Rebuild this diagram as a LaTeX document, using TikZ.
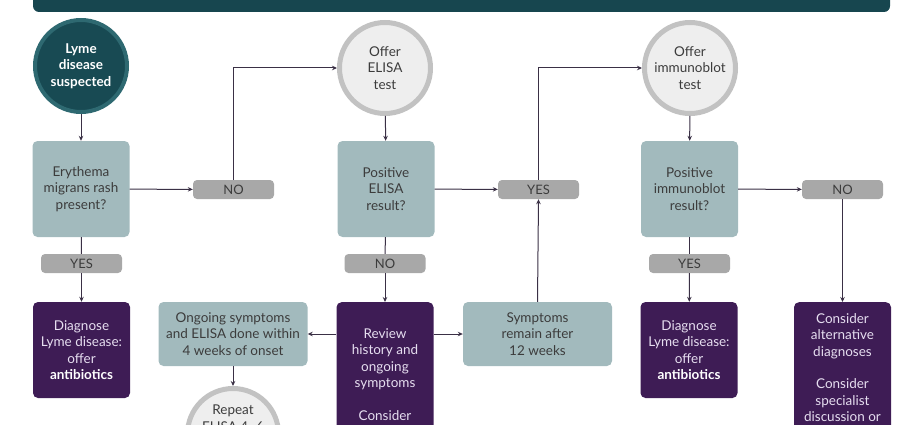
\documentclass[tikz,border=0pt]{standalone}
\usepackage{fontspec}
\setmainfont{Lato}
\usetikzlibrary{arrows.meta}
\definecolor{bannerteal}{HTML}{17464F}
\definecolor{ringteal}{HTML}{2E6971}
\definecolor{coreteal}{HTML}{184A53}
\definecolor{ringgray}{HTML}{C2C2C2}
\definecolor{coregray}{HTML}{EEEEEE}
\definecolor{boxteal}{HTML}{A2BABD}
\definecolor{boxpurple}{HTML}{3E1C55}
\definecolor{pillgray}{HTML}{A8A8A8}
\definecolor{linkdark}{HTML}{3A3045}
\definecolor{textdark}{HTML}{3C3C3C}
\definecolor{textlight}{HTML}{E6DEF0}

\begin{document}
\begin{tikzpicture}[x=1pt, y=-1pt,
  every node/.style={font=\fontsize{13.5}{16.5}\selectfont, align=center, inner sep=0pt},
  startcircle/.style={circle, draw=ringteal, line width=4pt, fill=coreteal, minimum size=92pt, text=white, font=\fontsize{13.5}{16.5}\selectfont\bfseries},
  testcircle/.style={circle, draw=ringgray, line width=5pt, fill=coregray, minimum size=91pt, text=textdark},
  question/.style={rectangle, rounded corners=5pt, fill=boxteal, text=textdark, minimum width=97pt, minimum height=96pt},
  notebox/.style={rectangle, rounded corners=5pt, fill=boxteal, text=textdark, minimum width=149pt, minimum height=64pt},
  outcome/.style={rectangle, rounded corners=5pt, fill=boxpurple, text=textlight, minimum width=97pt},
  pill/.style={rectangle, rounded corners=4pt, fill=pillgray, text=textdark, minimum width=81pt, minimum height=19pt, font=\fontsize{13}{14}\selectfont},
  link/.style={draw=linkdark, line width=1pt, -{Stealth[length=5pt, width=4.5pt]}},
  plainlink/.style={draw=linkdark, line width=1pt}]
  \useasboundingbox (0,0) rectangle (920,425);
  \clip (0,0) rectangle (920,425);

  % banner
  \path[fill=bannerteal, rounded corners=6pt] (33,-20) rectangle (890,12);

  % top row
  \node[startcircle] (suspect) at (81,66) {Lyme\\disease\\suspected};
  \node[testcircle] (elisa) at (385,68) {Offer\\ELISA\\test};
  \node[testcircle] (blot) at (690,68) {Offer\\immunoblot\\test};

  % questions and answers
  \node[question] (rash) at (81,189) {Erythema\\migrans rash\\present?};
  \node[question] (poselisa) at (386,189) {Positive\\ELISA\\result?};
  \node[question] (posblot) at (689.5,189) {Positive\\immunoblot\\result?};
  \node[pill] (rashno) at (233.5,189.5) {NO};
  \node[pill] (elisayes) at (538.5,189.5) {YES};
  \node[pill] (blotno) at (842.5,189.5) {NO};
  \node[pill] (rashyes) at (81.5,263.5) {YES};
  \node[pill] (elisano) at (385,263.5) {NO};
  \node[pill] (blotyes) at (689.5,263.5) {YES};

  % bottom row
  \node[outcome, minimum height=96pt] (diagA) at (81.5,350) {Diagnose\\Lyme disease:\\offer\\\textcolor{white}{\bfseries antibiotics}};
  \node[outcome, minimum height=96pt] (diagB) at (689,350) {Diagnose\\Lyme disease:\\offer\\\textcolor{white}{\bfseries antibiotics}};
  \node[outcome, minimum height=170pt, anchor=north] (review) at (385,302) {};
  \node[anchor=north, text=textlight] (reviewtext) at ([yshift=-26pt]review.north) {Review\\history and\\ongoing\\symptoms\\[16pt]Consider};
  \node[outcome, minimum height=170pt, anchor=north] (altern) at (842.5,302) {};
  \node[anchor=north, text=textlight] (alterntext) at ([yshift=-11pt]altern.north) {Consider\\alternative\\diagnoses\\[16pt]Consider\\specialist\\discussion or};
  \node[notebox] (ongoing) at (233,334) {Ongoing symptoms\\and ELISA done within\\4 weeks of onset};
  \node[notebox] (remain) at (537.5,334) {Symptoms\\remain after\\12 weeks};
  \node[testcircle] (repeat) at (233,434) {};
  \node[anchor=north, text=textdark] (repeattext) at ([yshift=-19pt]repeat.north) {Repeat\\ELISA 4--6};

  % connectors
  \draw[link] (suspect) -- (rash);
  \draw[link] (rash) -- (rashno);
  \draw[link] (rashno.north) |- (elisa.west);
  \draw[link] (elisa) -- (poselisa);
  \draw[link] (poselisa) -- (elisayes);
  \draw[link] (elisayes.north) |- (blot.west);
  \draw[link] (blot) -- (posblot);
  \draw[link] (posblot) -- (blotno);
  \draw[link] (blotno) -- (altern);
  \draw[plainlink] (rash) -- (rashyes);
  \draw[link] (rashyes) -- (diagA);
  \draw[plainlink] (poselisa) -- (elisano);
  \draw[link] (elisano) -- (review);
  \draw[plainlink] (posblot) -- (blotyes);
  \draw[link] (blotyes) -- (diagB);
  \draw[link] (review.west |- ongoing.east) -- (ongoing.east);
  \draw[link] (review.east |- remain.west) -- (remain.west);
  \draw[link] (remain.north) -- (elisayes.south);
  \draw[link] (ongoing) -- (repeat);
\end{tikzpicture}
\end{document}
